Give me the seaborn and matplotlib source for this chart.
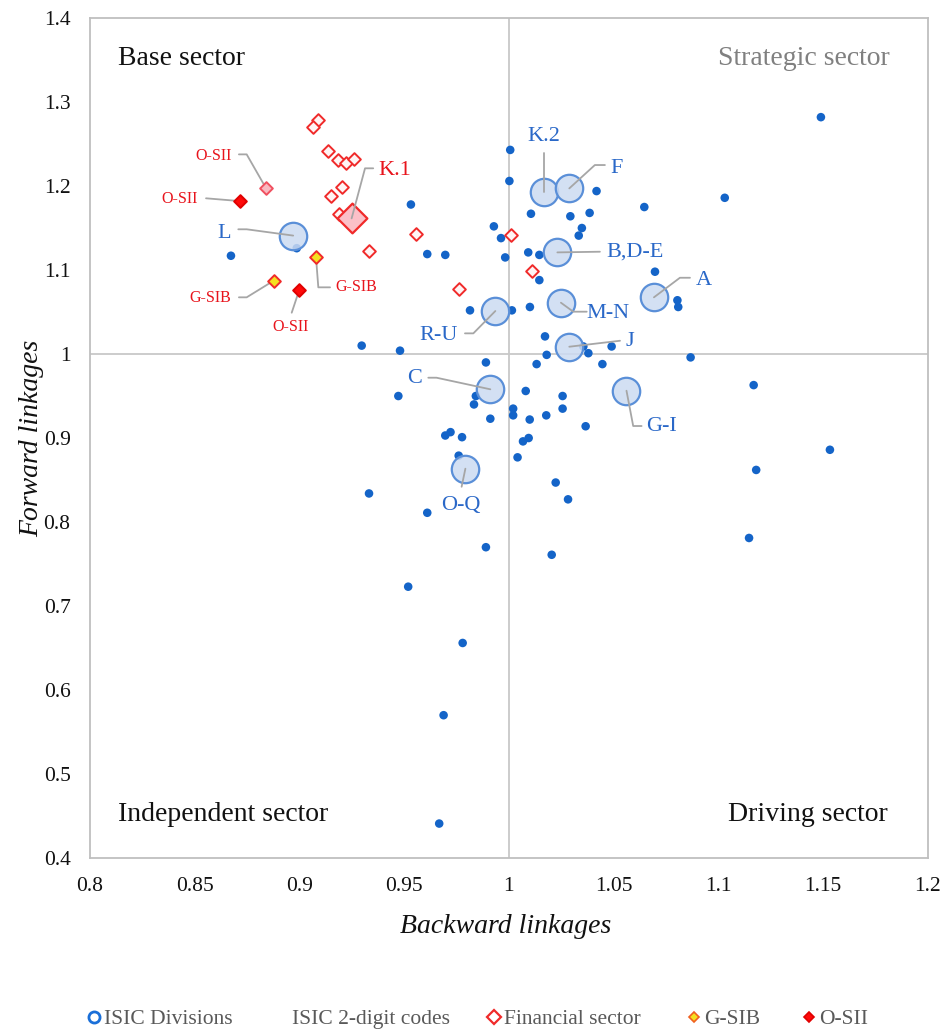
import numpy as np
import pandas as pd
import matplotlib
matplotlib.use("Agg")
import matplotlib.pyplot as plt
import seaborn as sns
from matplotlib.lines import Line2D

# ---------------- data ----------------
# ISIC 2-digit codes (small blue dots)
code_x = [1.1489, 1.0006, 1.0002, 1.0418, 1.103, 1.0646, 1.0105, 1.0293, 1.0385, 1.0348,
          1.0333, 0.9532, 0.9928, 0.9962, 0.9982, 1.0092, 1.0145, 0.961, 0.9696, 1.0145,
          1.0697, 1.0804, 1.0808, 0.9814, 1.0014, 1.010, 1.0172, 0.9297, 0.948, 1.049,
          1.0379, 1.018, 1.0867, 1.0355, 0.989, 1.0132, 1.0446, 0.9472, 0.9842, 0.9833,
          1.008, 1.0256, 1.0256, 1.002, 1.002, 1.0099, 1.0178, 0.9911, 1.0366, 0.9696,
          0.9721, 0.9776, 1.0067, 1.0094, 1.0041, 0.976, 0.9332, 0.961, 0.989, 1.0223,
          1.0282, 1.0204, 0.9519, 0.9779, 0.9688, 0.9667, 1.1168, 1.1532, 1.118, 1.1146,
          0.8673, 0.8987]
code_y = [1.282, 1.243, 1.206, 1.194, 1.186, 1.175, 1.167, 1.164, 1.168, 1.150,
          1.141, 1.178, 1.152, 1.138, 1.115, 1.121, 1.118, 1.119, 1.118, 1.088,
          1.098, 1.064, 1.056, 1.052, 1.052, 1.056, 1.021, 1.010, 1.004, 1.009,
          1.001, 0.999, 0.996, 1.009, 0.990, 0.988, 0.988, 0.950, 0.950, 0.940,
          0.956, 0.950, 0.935, 0.935, 0.927, 0.922, 0.927, 0.923, 0.914, 0.903,
          0.907, 0.901, 0.896, 0.900, 0.877, 0.879, 0.834, 0.811, 0.770, 0.847,
          0.827, 0.761, 0.723, 0.656, 0.570, 0.441, 0.963, 0.886, 0.862, 0.781,
          1.117, 1.126]

# ISIC Divisions (large circles)
div_names = ["L", "K.2", "F", "B,D-E", "A", "M-N", "R-U", "J", "C", "G-I", "O-Q"]
div_x = [0.897, 1.0169, 1.0288, 1.0231, 1.0692, 1.0248, 0.9935, 1.0288, 0.9911, 1.0561, 0.9792]
div_y = [1.141, 1.1925, 1.1972, 1.121, 1.0675, 1.0611, 1.0512, 1.0087, 0.958, 0.9563, 0.8635]

# Financial sector division K.1 (large diamond)
k1_x = [0.9249]
k1_y = [1.1615]

# Financial sector 2-digit / institutions
fin_x = [0.9087, 0.9066, 0.9138, 0.9182, 0.9222, 0.9262, 0.9204, 0.915, 0.919,
         0.9554, 0.9334, 0.9763, 1.0010, 1.0108]
fin_y = [1.2786, 1.2699, 1.242, 1.231, 1.2278, 1.232, 1.1984, 1.1885, 1.1667,
         1.1429, 1.123, 1.0774, 1.1417, 1.0988]

# O-SII flagged financial point with light fill
osii_light_x = [0.8839]
osii_light_y = [1.198]

gsib_x = [0.9079, 0.8877]
gsib_y = [1.1151, 1.0873]

osii_x = [0.8714, 0.8999]
osii_y = [1.1821, 1.0762]

x_ticks = [0.8, 0.85, 0.9, 0.95, 1, 1.05, 1.1, 1.15, 1.2]
x_tick_labels = ["0.8", "0.85", "0.9", "0.95", "1", "1.05", "1.1", "1.15", "1.2"]
y_ticks = [0.4, 0.5, 0.6, 0.7, 0.8, 0.9, 1.0, 1.1, 1.2, 1.3, 1.4]
y_tick_labels = ["0.4", "0.5", "0.6", "0.7", "0.8", "0.9", "1", "1.1", "1.2", "1.3", "1.4"]

legend_labels = ["ISIC Divisions", "ISIC 2-digit codes", "Financial sector", "G-SIB", "O-SII"]

# ---------------- style ----------------
sns.set_theme(style="white")
plt.rcParams['font.family'] = ['Liberation Serif', 'DejaVu Serif']

BLUE = "#1464c8"
BLUE_TXT = "#2a68c8"
CIRC_FACE = (0.80, 0.86, 0.95, 0.85)
CIRC_EDGE = "#5a8fd8"
RED = "#f02a2a"
RED_TXT = "#e8141c"
LINE_GRAY = "#a6a6a6"

fig = plt.figure(figsize=(9.4, 10.31), dpi=100)
ax = fig.add_axes([0.0957, 0.1678, 0.8915, 0.8147])
ax.set_xlim(0.8, 1.2)
ax.set_ylim(0.4, 1.4)

ax.axvline(1.0, color="#c8c8c8", lw=1.3, zorder=0)
ax.axhline(1.0, color="#c8c8c8", lw=1.3, zorder=0)

df_code = pd.DataFrame({"x": code_x, "y": code_y})
df_div = pd.DataFrame({"x": div_x, "y": div_y, "name": div_names})
df_fin = pd.DataFrame({"x": fin_x, "y": fin_y})

sns.scatterplot(data=df_code, x="x", y="y", ax=ax, color=BLUE, s=38,
                edgecolor="none", zorder=3, legend=False)
sns.scatterplot(data=df_fin, x="x", y="y", ax=ax, marker="D", color="#fff4f4",
                edgecolor=RED, linewidth=1.4, s=42, zorder=4, legend=False)
sns.scatterplot(x=osii_light_x, y=osii_light_y, ax=ax, marker="D", color="#f9b8c0",
                edgecolor="#f05060", linewidth=1.4, s=42, zorder=4, legend=False)
sns.scatterplot(x=gsib_x, y=gsib_y, ax=ax, marker="D", color="#f5e020",
                edgecolor=RED, linewidth=1.4, s=42, zorder=4, legend=False)
sns.scatterplot(x=osii_x, y=osii_y, ax=ax, marker="D", color="#ff0a0a",
                edgecolor="#e00000", linewidth=1.4, s=42, zorder=4, legend=False)
sns.scatterplot(x=k1_x, y=k1_y, ax=ax, marker="D", color="#fbc0c8",
                edgecolor=RED, linewidth=1.6, s=230, zorder=5, legend=False)
sns.scatterplot(data=df_div, x="x", y="y", ax=ax, color=CIRC_FACE,
                edgecolor=CIRC_EDGE, linewidth=1.6, s=390, zorder=5, legend=False)

# ---------------- annotations ----------------
def leader(text, px, py, tx, ty, lx, ly, ex, color, size, ha="center", z=6):
    pts_x = [lx, ex, px] if ex is not None else [lx, px]
    pts_y = [ly, ly, py] if ex is not None else [ly, py]
    ax.plot(pts_x, pts_y, color=LINE_GRAY, lw=1.3, zorder=z)
    ax.text(tx, ty, text, color=color, fontsize=size, ha=ha, va="center", zorder=7)

d = dict(zip(div_names, zip(div_x, div_y)))
lab = 16
leader("L", *d["L"], 0.8640, 1.1437, 0.8708, 1.1485, 0.8748, BLUE_TXT, lab)
leader("K.2", *d["K.2"], 1.0164, 1.2595, 1.0169, 1.2393, None, BLUE_TXT, lab)
leader("F", *d["F"], 1.0514, 1.2211, 1.0458, 1.2250, 1.0410, BLUE_TXT, lab)
leader("B,D-E", *d["B,D-E"], 1.0466, 1.1210, 1.0434, 1.1218, None, BLUE_TXT, lab, ha="left")
leader("A", *d["A"], 1.0928, 1.0881, 1.0864, 1.0908, 1.0816, BLUE_TXT, lab)
leader("M-N", *d["M-N"], 1.0474, 1.0485, 1.0371, 1.0504, 1.0307, BLUE_TXT, lab)
leader("J", *d["J"], 1.0578, 1.0147, 1.0530, 1.0158, None, BLUE_TXT, lab)
leader("R-U", *d["R-U"], 0.9663, 1.0226, 0.9790, 1.0246, 0.9830, BLUE_TXT, lab)
leader("C", *d["C"], 0.9551, 0.9711, 0.9615, 0.9718, 0.9654, BLUE_TXT, lab)
leader("G-I", *d["G-I"], 1.0729, 0.9143, 1.0633, 0.9143, 1.0593, BLUE_TXT, lab)
leader("O-Q", *d["O-Q"], 0.9769, 0.8202, 0.9774, 0.8420, None, BLUE_TXT, lab)
leader("K.1", k1_x[0], k1_y[0], 0.9456, 1.2190, 0.9352, 1.2211, 0.9313, RED_TXT, lab)

sm = 11.5
leader("O-SII", osii_light_x[0], osii_light_y[0], 0.8589, 1.2361, 0.8711, 1.2377, 0.8748, RED_TXT, sm, z=3)
leader("O-SII", osii_x[0], osii_y[0], 0.8430, 1.1842, 0.8554, 1.1854, None, RED_TXT, sm, z=3)
leader("G-SIB", gsib_x[0], gsib_y[0], 0.9273, 1.0794, 0.9146, 1.0794, 0.9090, RED_TXT, sm, z=3)
leader("G-SIB", gsib_x[1], gsib_y[1], 0.8573, 1.0670, 0.8711, 1.0675, 0.8748, RED_TXT, sm, z=3)
leader("O-SII", osii_x[1], osii_y[1], 0.8959, 1.0325, 0.8963, 1.0492, None, RED_TXT, sm, z=3)

# quadrant labels
qs = 20
ax.text(0.8134, 1.3524, "Base sector", fontsize=qs, ha="left", va="center", color="#111111")
ax.text(1.1819, 1.3524, "Strategic sector", fontsize=qs, ha="right", va="center", color="#808080")
ax.text(0.8134, 0.4512, "Independent sector", fontsize=qs, ha="left", va="center", color="#111111")
ax.text(1.1809, 0.4512, "Driving sector", fontsize=qs, ha="right", va="center", color="#111111")

# axes styling
ax.set_xticks(x_ticks)
ax.set_xticklabels(x_tick_labels)
ax.set_yticks(y_ticks)
ax.set_yticklabels(y_tick_labels)
ax.tick_params(axis="x", length=0, pad=14, labelsize=15.5, labelcolor="#111111")
ax.tick_params(axis="y", length=0, pad=14, labelsize=15.5, labelcolor="#111111")
for sp in ax.spines.values():
    sp.set_color("#bfbfbf")
    sp.set_linewidth(1.3)
ax.grid(False)

ax.set_xlabel("Backward linkages", fontsize=20, style="italic", color="#111111")
ax.set_ylabel("Forward linkages", fontsize=20, style="italic", color="#111111")
ax.xaxis.set_label_coords(0.496, -0.081)
ax.xaxis.label.set_va("center")
ax.yaxis.set_label_coords(-0.070, 0.50)
ax.yaxis.label.set_va("center")

# legend (one entry per legend so spacing follows the reference)
handles = [
    Line2D([], [], marker="o", ls="none", markerfacecolor="white", markeredgecolor="#1a6fd8",
           markeredgewidth=2, markersize=8),
    Line2D([], [], marker="", ls="none"),
    Line2D([], [], marker="D", ls="none", markerfacecolor="white", markeredgecolor=RED,
           markeredgewidth=1.6, markersize=7),
    Line2D([], [], marker="D", ls="none", markerfacecolor="#f5e020", markeredgecolor="#f06020",
           markeredgewidth=1.2, markersize=5),
    Line2D([], [], marker="D", ls="none", markerfacecolor="#ff0a0a", markeredgecolor="#e00000",
           markeredgewidth=1.2, markersize=5),
]
entry_left_px = [88, 276, 488, 688, 803]
for h, lbl, xpx in zip(handles, legend_labels, entry_left_px):
    lg = fig.legend([h], [lbl], loc="center left", bbox_to_anchor=(xpx / 940, 0.0116),
                    frameon=False, fontsize=15.5, handlelength=0.6, handletextpad=0.15,
                    borderpad=0, borderaxespad=0, labelcolor="#595959")

fig.savefig("out.png", dpi=100)
